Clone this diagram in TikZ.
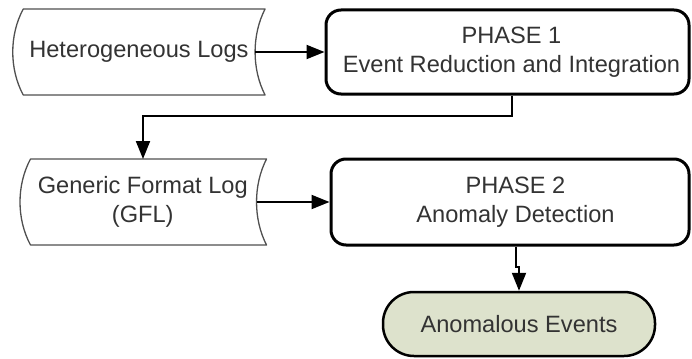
\documentclass[tikz,border=0pt]{standalone}
\usepackage{fontspec}
\setmainfont{Liberation Sans}
\usetikzlibrary{arrows.meta,calc}

\definecolor{inkgrey}{RGB}{51,51,51}
\definecolor{edgegrey}{RGB}{80,80,80}
\definecolor{sagefill}{RGB}{221,226,204}

\tikzset{
  lbl/.style={text=inkgrey, font=\fontsize{23.7pt}{28.6pt}\selectfont, align=center, inner sep=0pt},
  storebox/.style={minimum height=86bp, inner sep=0pt, outer sep=0pt},
  storeline/.style={draw=edgegrey, line width=1.3bp, line join=round, fill=white},
  phasebox/.style={draw=black, line width=3bp, rounded corners=15bp, fill=white, inner sep=0pt},
  endbox/.style={lbl, draw=black, line width=2.5bp, rounded corners=31bp, fill=sagefill,
                 minimum width=272bp, minimum height=64bp},
  flow/.style={draw=black, line width=2bp, -{Triangle[length=18bp,width=14bp]}},
}

% outline of a "stored data" symbol around an (invisible) node
\newcommand\storedoutline[1]{%
  \draw[storeline]
    ($(#1.north west)+(10.5,0)$) -- ($(#1.north east)+(10,0)$)
    .. controls ($(#1.east)+(-3.3,17)$) and ($(#1.east)+(-3.3,-17)$) ..
    ($(#1.south east)+(10,0)$) -- ($(#1.south west)+(10.5,0)$)
    .. controls ($(#1.west)+(-3.5,-17)$) and ($(#1.west)+(-3.5,17)$) .. cycle;}

\begin{document}
\begin{tikzpicture}[x=1bp,y=1bp]
  \useasboundingbox (0,0) rectangle (692,358);

  % data stores
  \node[storebox, minimum width=242.3bp] (hl) at (133.9,306) {};
  \storedoutline{hl}
  \node[lbl] (hltext) at ([xshift=5bp]hl.center) {Heterogeneous Logs};

  \node[storebox, minimum width=236.5bp] (gfl) at (138.25,156) {};
  \storedoutline{gfl}
  \node[lbl] (gfltext) at ([xshift=4.5bp]gfl.center) {Generic Format Log\\(GFL)};

  % processing phases
  \node[phasebox, minimum width=363bp, minimum height=84bp] (p1) at (507.5,306) {};
  \node[lbl] (p1text) at ([xshift=4bp]p1.center) {PHASE 1\\Event Reduction and Integration};

  \node[phasebox, minimum width=358bp, minimum height=86bp] (p2) at (510,156) {};
  \node[lbl] (p2text) at ([xshift=5.5bp]p2.center) {PHASE 2\\Anomaly Detection};

  % result
  \node[endbox] (ae) at (519,34) {Anomalous Events};

  % flow
  \draw[flow] (hl.east) -- (p1.west);
  \draw[flow] ([xshift=4.5bp]p1.south) -- ++(0,-20) -| ([xshift=4.75bp]gfl.north);
  \draw[flow] (gfl.east) -- (p2.west);
  \draw[flow] ([xshift=6bp]p2.south) -- ++(0,-20) -| (ae.north);
\end{tikzpicture}
\end{document}
